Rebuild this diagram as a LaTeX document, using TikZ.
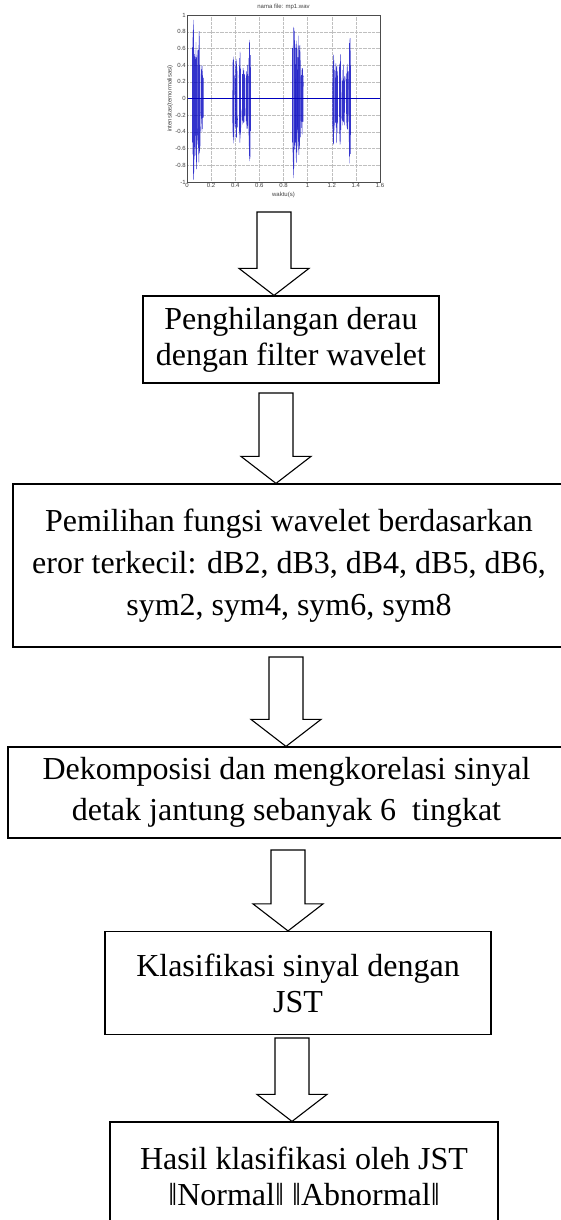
\documentclass[tikz,border=0pt]{standalone}
\usepackage{fontspec}
\setmainfont{Liberation Serif}
\setsansfont{Liberation Sans}
\usetikzlibrary{calc}
\tikzset{
  stepbox/.style={draw,line width=1.2pt,align=center,inner sep=0pt,
    font=\fontsize{32}{36}\selectfont},
  arrowshape/.style={draw,line width=1.1pt,fill=white,line join=miter},
  ticklabel/.style={font=\sffamily\fontsize{6}{7}\selectfont,text=black!75,inner sep=1pt}
}
\newcommand{\blockarrow}[2]{%
  \draw[arrowshape] let \p1=(#1), \p2=(#2.north) in
    (\x1-17pt,\y1) -- (\x1+17pt,\y1) -- (\x1+17pt,\y2+27pt) -- (\x1+35pt,\y2+27pt)
    -- (\x1,\y2) -- (\x1-35pt,\y2+27pt) -- (\x1-17pt,\y2+27pt) -- cycle;}
\begin{document}
\begin{tikzpicture}[x=1pt,y=-1pt]
    \useasboundingbox (0,0) rectangle (560,1220);
    % signal plot
    \begin{scope}[shift={(187,98.5)},x=120.6pt,y=83.5pt]
      \foreach \v in {-1,-0.8,...,1.01}
        \draw[gray!50,densely dotted,line width=0.3pt] (0,\v) -- (1.6,\v);
      \foreach \t in {0.2,0.4,...,1.41}
        \draw[gray!50,densely dotted,line width=0.3pt] (\t,-1) -- (\t,1);
      \pgfmathsetseed{7}
      \foreach \c/\w/\a in {0.055/0.012/1.0,0.078/0.01/0.85,0.1/0.012/0.85,0.125/0.012/0.45,
          0.385/0.008/0.6,0.41/0.01/0.55,0.44/0.008/0.6,0.468/0.014/0.42,0.5/0.01/0.45,0.52/0.008/0.85,
          0.885/0.012/1.0,0.908/0.01/0.85,0.93/0.012/0.85,0.955/0.012/0.45,
          1.215/0.008/0.6,1.24/0.01/0.55,1.27/0.008/0.6,1.298/0.014/0.42,1.33/0.01/0.45,1.35/0.008/0.85}
        \draw[blue!75!black,line width=0.35pt,opacity=0.8]
          plot[domain={\c-\w}:{\c+\w},samples=34]
          (\x,{(rnd<0.5?-1:1)*\a*(0.55+0.45*rnd)*(1-0.4*abs((\x-\c)/\w))});
      \draw[blue!75!black,line width=0.5pt] (0,0) -- (1.6,0);
      \draw[black!70,line width=0.4pt] (0,-1) rectangle (1.6,1);
      \foreach \v in {-1,-0.8,-0.6,-0.4,-0.2,0,0.2,0.4,0.6,0.8,1}
        \node[ticklabel,anchor=east] at (0,\v) {\v};
      \foreach \t in {0,0.2,0.4,0.6,0.8,1,1.2,1.4,1.6}
        \node[ticklabel,anchor=north] at (\t,-1) {\t};
      \node[ticklabel] (title) at (0.8,1.1) {nama file: mp1.wav};
      \node[ticklabel] (xlab) at (0.8,-1.15) {waktu(s)};
      \node[ticklabel,rotate=90] (ylab) at (-0.14,0) {intensitas(ternormalisasi)};
    \end{scope}
    % flow boxes
    \node[stepbox,minimum width=296pt,minimum height=87pt] (b1) at (291,339.5)
      {Penghilangan derau\\dengan filter wavelet};
    \node[stepbox,minimum width=552pt,minimum height=163pt,
      font=\fontsize{32}{42}\selectfont] (b2) at (289,565.5)
      {Pemilihan fungsi wavelet berdasarkan\\eror terkecil: dB2, dB3, dB4, dB5, dB6,\\sym2, sym4, sym6, sym8};
    \node[stepbox,minimum width=557pt,minimum height=91pt,
      font=\fontsize{32}{41}\selectfont] (b3) at (286.5,792.5)
      {Dekomposisi dan mengkorelasi sinyal\\detak jantung sebanyak 6~ tingkat};
    \node[stepbox,minimum width=386pt,minimum height=103pt] (b4) at (298,983)
      {Klasifikasi sinyal dengan\\JST};
    \node[stepbox,minimum width=388pt,minimum height=108pt] (b5) at (304,1176)
      {Hasil klasifikasi oleh JST\\‖Normal‖ ‖Abnormal‖};
    % arrows
    \coordinate (a1) at (274,212);
    \coordinate (a2) at (276,393);
    \coordinate (a3) at (286,657);
    \coordinate (a4) at (288,850);
    \coordinate (a5) at (292,1038);
    \blockarrow{a1}{b1}
    \blockarrow{a2}{b2}
    \blockarrow{a3}{b3}
    \blockarrow{a4}{b4}
    \blockarrow{a5}{b5}
\end{tikzpicture}
\end{document}
